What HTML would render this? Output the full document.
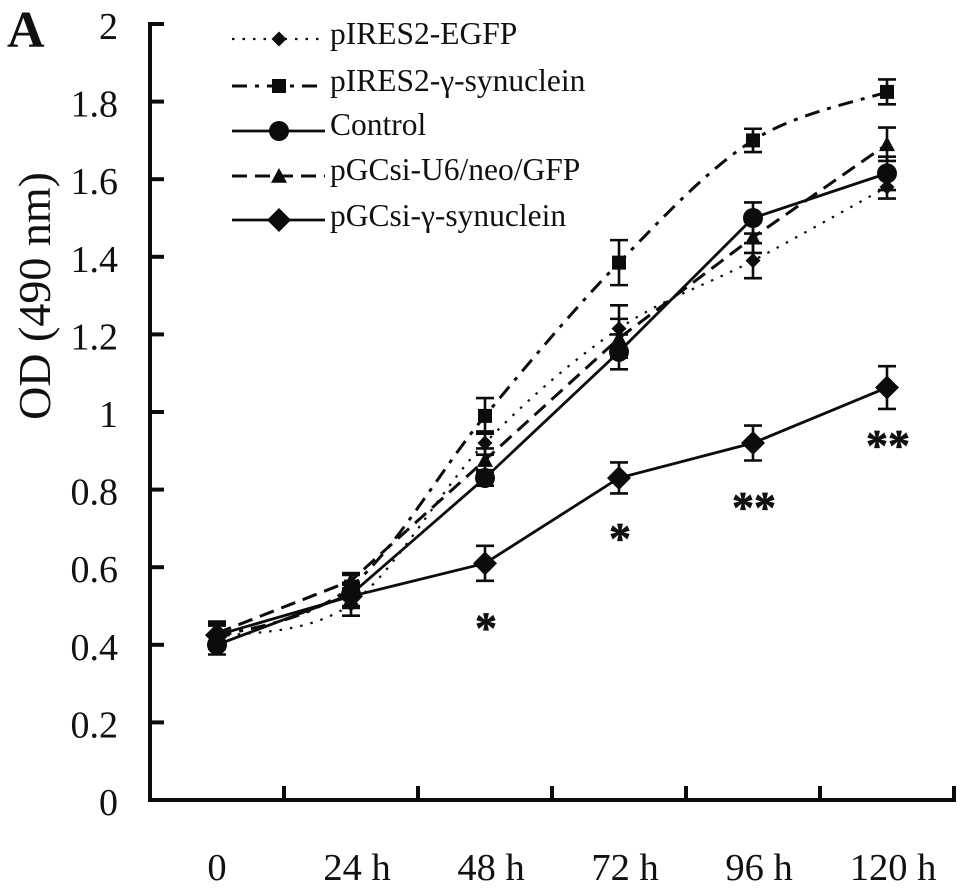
<!DOCTYPE html>
<html><head><meta charset="utf-8"><title>OD chart</title>
<style>
html,body{margin:0;padding:0;background:#fff;width:969px;height:893px;overflow:hidden}
svg{display:block}
text{font-family:"Liberation Serif",serif;fill:#111}
</style></head>
<body>
<svg id="chart" width="969" height="893" viewBox="0 0 969 893" xmlns="http://www.w3.org/2000/svg">
<text x="7" y="47" font-size="52" font-weight="bold">A</text>
<text transform="translate(50,296) rotate(-90)" text-anchor="middle" font-size="46">OD (490 nm)</text>
<g id="axes"></g>
<g id="series"></g>
<g id="sig"></g>
<g id="legend"></g>
</svg>
<script>
var categories = ['0', '24 h', '48 h', '72 h', '96 h', '120 h'];
var yTicks = [0, 0.2, 0.4, 0.6, 0.8, 1, 1.2, 1.4, 1.6, 1.8, 2];
var egfpValues = [0.42, 0.505, 0.92, 1.215, 1.39, 1.58];
var egfpErrors = [0.03, 0.03, 0.03, 0.06, 0.045, 0.03];
var synOverValues = [0.42, 0.55, 0.99, 1.385, 1.70, 1.825];
var synOverErrors = [0.03, 0.03, 0.046, 0.058, 0.03, 0.032];
var controlValues = [0.40, 0.53, 0.83, 1.155, 1.50, 1.615];
var controlErrors = [0.025, 0.03, 0.02, 0.045, 0.04, 0.043];
var u6Values = [0.43, 0.565, 0.876, 1.19, 1.45, 1.69];
var u6Errors = [0.03, 0.02, 0.03, 0.05, 0.04, 0.043];
var synKdValues = [0.425, 0.525, 0.61, 0.83, 0.92, 1.063];
var synKdErrors = [0.03, 0.03, 0.045, 0.04, 0.045, 0.055];
var sigLabels = ['', '', '*', '*', '**', '**'];
var sigValues = [0, 0, 0.455, 0.685, 0.765, 0.925];
var seriesNames = ['pIRES2-EGFP', 'pIRES2-γ-synuclein', 'Control', 'pGCsi-U6/neo/GFP', 'pGCsi-γ-synuclein'];

var NS = 'http://www.w3.org/2000/svg';
var INK = '#0c0c0c';
var seriesStyles = [
  {key:'egfp', dash:'2.5 8', w:2.2, marker:'diamond', size:7.5, smooth:true},
  {key:'pires-syn', dash:'15 8 4 8', w:3, marker:'square', size:7, smooth:true},
  {key:'control', dash:'', w:2.8, marker:'circle', size:10, smooth:false},
  {key:'u6', dash:'15 8', w:3, marker:'triangle', size:8, smooth:false},
  {key:'knockdown', dash:'', w:2.8, marker:'diamond', size:12, smooth:false}
];
var seriesValues = [egfpValues, synOverValues, controlValues, u6Values, synKdValues];
var seriesErrors = [egfpErrors, synOverErrors, controlErrors, u6Errors, synKdErrors];

function xScale(i){ return 217 + i * 134; }
function yScale(v){ return 800 - v * 388; }

function mk(tag, attrs, parent){
  var el = document.createElementNS(NS, tag);
  for (var k in attrs) el.setAttribute(k, attrs[k]);
  parent.appendChild(el);
  return el;
}

function markerShape(type, cx, cy, s, parent){
  var el;
  if (type === 'circle') {
    el = mk('circle', {cx:cx, cy:cy, r:s, fill:INK}, parent);
  } else if (type === 'square') {
    el = mk('rect', {x:cx-s, y:cy-s, width:2*s, height:2*s, fill:INK}, parent);
  } else if (type === 'triangle') {
    el = mk('polygon', {points:cx+','+(cy-s)+' '+(cx+s)+','+(cy+s*0.85)+' '+(cx-s)+','+(cy+s*0.85), fill:INK}, parent);
  } else {
    el = mk('polygon', {points:cx+','+(cy-s)+' '+(cx+s)+','+cy+' '+cx+','+(cy+s)+' '+(cx-s)+','+cy, fill:INK}, parent);
  }
  return el;
}

function linePath(vals, smooth){
  var pts = vals.map(function(v,i){ return [xScale(i), yScale(v)]; });
  var d = 'M' + pts[0][0] + ' ' + pts[0][1];
  for (var i = 0; i < pts.length - 1; i++) {
    if (!smooth) { d += 'L' + pts[i+1][0] + ' ' + pts[i+1][1]; continue; }
    var p0 = pts[Math.max(i-1,0)], p1 = pts[i], p2 = pts[i+1], p3 = pts[Math.min(i+2,pts.length-1)];
    var t = 1/6;
    d += 'C' + (p1[0]+(p2[0]-p0[0])*t) + ' ' + (p1[1]+(p2[1]-p0[1])*t) + ' ' +
         (p2[0]-(p3[0]-p1[0])*t) + ' ' + (p2[1]-(p3[1]-p1[1])*t) + ' ' + p2[0] + ' ' + p2[1];
  }
  return d;
}

/* axes */
var axes = document.getElementById('axes');
var yAxis = mk('line', {x1:150, y1:22, x2:150, y2:802, stroke:INK, 'stroke-width':4}, axes);


var xAxis = mk('line', {x1:148, y1:800, x2:956, y2:800, stroke:INK, 'stroke-width':4}, axes);



yTicks.forEach(function(v){
  var y = yScale(v);
  var t = mk('line', {x1:150, y1:y, x2:164, y2:y, stroke:INK, 'stroke-width':4}, axes);
  
  
  var l = mk('text', {x:118, y:y+15, 'text-anchor':'end', 'font-size':38}, axes);
  
  
  l.textContent = String(v);
});
categories.forEach(function(c,i){
  var tx = xScale(i) - 67;
  if (i > 0) {
    var t = mk('line', {x1:tx, y1:800, x2:tx, y2:786, stroke:INK, 'stroke-width':4}, axes);
    
    
  }
  var l = mk('text', {x:xScale(i)+(i===0?0:6), y:880, 'text-anchor':'middle', 'font-size':38.5}, axes);
  
  
  l.textContent = c;
});
var lastTick = mk('line', {x1:xScale(5)+67, y1:800, x2:xScale(5)+67, y2:786, stroke:INK, 'stroke-width':4}, axes);



/* series */
var seriesG = document.getElementById('series');
seriesStyles.forEach(function(st, si){
  var vals = seriesValues[si], errs = seriesErrors[si];
  var g = mk('g', {}, seriesG);
  
  
  var attrs = {d:linePath(vals, st.smooth), fill:'none', stroke:INK, 'stroke-width':st.w};
  if (st.dash) attrs['stroke-dasharray'] = st.dash;
  var p = mk('path', attrs, g);
  
  
  vals.forEach(function(v,i){
    var x = xScale(i), y = yScale(v);
    var top = yScale(v + errs[i]), bot = yScale(v - errs[i]);
    var eb = mk('path', {d:'M'+x+' '+top+'V'+bot+'M'+(x-9)+' '+top+'H'+(x+9)+'M'+(x-9)+' '+bot+'H'+(x+9), fill:'none', stroke:INK, 'stroke-width':2.6}, g);
    
    
    var m = markerShape(st.marker, x, y, st.size, g);
    
    
  });
});

/* significance */
var sigG = document.getElementById('sig');
sigLabels.forEach(function(s,i){
  if (!s) return;
  var t = mk('text', {x:xScale(i)+1, y:yScale(sigValues[i])+19, 'text-anchor':'middle', 'font-size':44, 'font-weight':'bold', stroke:'#111', 'stroke-width':0.7}, sigG);
  
  
  t.textContent = s;
});

/* legend */
var legendG = document.getElementById('legend');
var legendRows = [39, 86, 131, 176, 220];
var legendTextBaselines = [44, 91, 135, 180, 226];
seriesNames.forEach(function(n,i){
  var st = seriesStyles[i], y = legendRows[i];
  var g = mk('g', {}, legendG);
  
  
  var attrs = {x1:232, y1:y, x2:325, y2:y, stroke:INK, 'stroke-width':st.w};
  if (st.dash) attrs['stroke-dasharray'] = st.dash;
  var l = mk('line', attrs, g);
  
  
  var m = markerShape(st.marker, 279, y, st.size, g);
  
  
  var t = mk('text', {x:330, y:legendTextBaselines[i], 'font-size':31.5}, g);
  
  
  t.textContent = n;
});
</script>
</body></html>
